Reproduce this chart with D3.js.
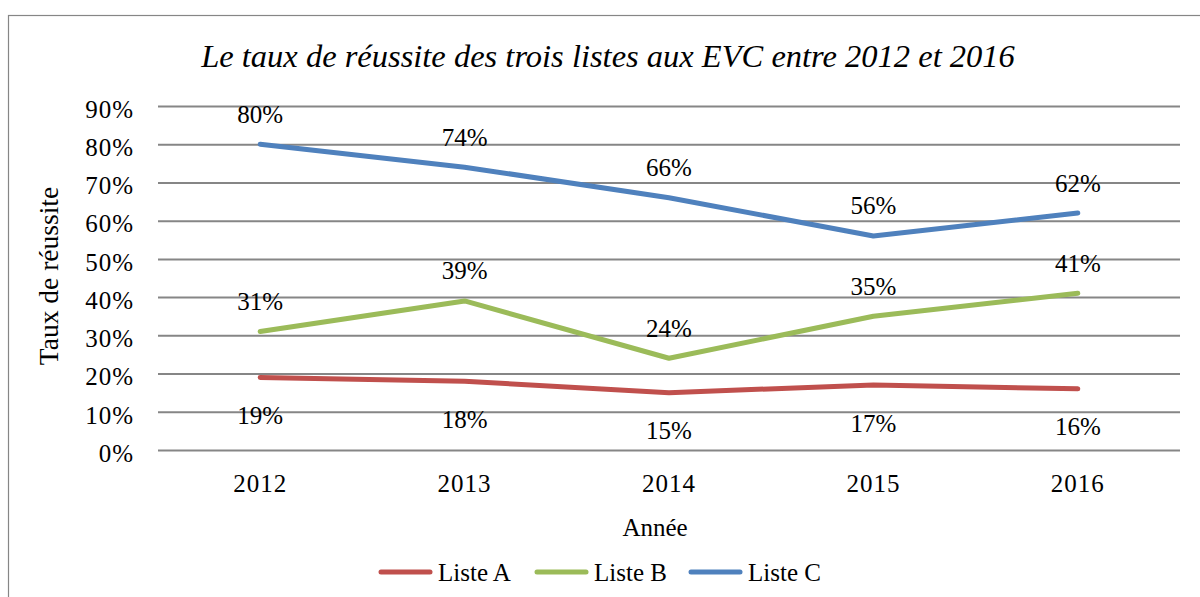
<!DOCTYPE html>
<html lang="fr">
    <head>
        <meta charset="utf-8">
        <title>Taux de réussite</title>
        <script src="https://cdn.jsdelivr.net/npm/d3@7"></script>
        <style>
            body { margin: 0; background: #fff; }
            text { font-family: "Liberation Serif", serif; fill: #000; }
        </style>
    </head>
    <body>
        <script>
            // data
            var years = ["2012", "2013", "2014", "2015", "2016"];
            var listeA = [19, 18, 15, 17, 16];
            var listeB = [31, 39, 24, 35, 41];
            var listeC = [80, 74, 66, 56, 62];
            var seriesNames = ["Liste A", "Liste B", "Liste C"];
            var yTicks = [0, 10, 20, 30, 40, 50, 60, 70, 80, 90];

            var series = [
                { name: seriesNames[0], values: listeA, color: "#c0504d", labelBelow: true },
                { name: seriesNames[1], values: listeB, color: "#9bbb59", labelBelow: false },
                { name: seriesNames[2], values: listeC, color: "#4f81bd", labelBelow: false }
            ];

            var w = 1200, h = 597;
            // note: "top" is taken by window.top, so prefixed names
            var plotLeft = 158, plotRight = 1180, plotTop = 106, plotBottom = 450;

            var svg = d3.select("body").append("svg")
                .attr("width", w)
                .attr("height", h);

            // outer frame (right and bottom edges run off the picture)
            svg.append("rect")
                .attr("x", 8.5).attr("y", 15.5)
                .attr("width", 1200).attr("height", 600)
                .attr("fill", "none")
                .attr("stroke", "#868686")
                .attr("stroke-width", 1.2);

            var x = d3.scaleBand().domain(years).range([plotLeft, plotRight]);
            var y = d3.scaleLinear().domain([0, 90]).range([plotBottom, plotTop]);
            var cx = function(d) { return x(d) + x.bandwidth() / 2; };

            // gridlines + y labels
            var yAxis = d3.axisLeft(y)
                .tickValues(yTicks)
                .tickSize(-(plotRight - plotLeft))
                .tickPadding(24)
                .tickFormat(function(d) { return d + "%"; });
            var gy = svg.append("g")
                .attr("transform", "translate(" + plotLeft + ",0)")
                .call(yAxis);
            gy.select(".domain").remove();
            gy.selectAll(".tick line")
                .attr("stroke", "#868686")
                .attr("stroke-width", 2);
            gy.selectAll(".tick text")
                .attr("font-family", "Liberation Serif")
                .attr("font-size", "25px")
                .attr("letter-spacing", "1px")
                .attr("dy", "0.45em")
                .attr("fill", "#000");

            // x labels
            var xAxis = d3.axisBottom(x).tickSize(0).tickPadding(24);
            var gx = svg.append("g")
                .attr("transform", "translate(0," + plotBottom + ")")
                .call(xAxis);
            gx.select(".domain").remove();
            gx.selectAll(".tick text")
                .attr("font-family", "Liberation Serif")
                .attr("font-size", "25px")
                .attr("letter-spacing", "1px")
                .attr("fill", "#000");

            // lines
            var line = d3.line()
                .x(function(d, i) { return cx(years[i]); })
                .y(function(d) { return y(d); });

            svg.selectAll("path.serie")
                .data(series)
                .enter()
                .append("path")
                .attr("class", "serie")
                .attr("d", function(s) { return line(s.values); })
                .attr("fill", "none")
                .attr("stroke", function(s) { return s.color; })
                .attr("stroke-width", 5)
                .attr("stroke-linecap", "round")
                .attr("stroke-linejoin", "round");

            // data labels
            series.forEach(function(s) {
                svg.selectAll(null)
                    .data(s.values)
                    .enter()
                    .append("text")
                    .text(function(d) { return d + "%"; })
                    .attr("x", function(d, i) { return cx(years[i]); })
                    .attr("y", function(d) { return y(d) + (s.labelBelow ? 38 : -30); })
                    .attr("dominant-baseline", "central")
                    .attr("text-anchor", "middle")
                    .attr("font-size", "25px");
            });

            // title
            svg.append("text")
                .text("Le taux de réussite des trois listes aux EVC entre 2012 et 2016")
                .attr("x", 608).attr("y", 56)
                .attr("dominant-baseline", "central")
                .attr("text-anchor", "middle")
                .attr("font-size", "32.5px")
                .attr("font-style", "italic");

            // axis titles
            svg.append("text")
                .text("Taux de réussite")
                .attr("transform", "translate(48,276) rotate(-90)")
                .attr("dominant-baseline", "central")
                .attr("text-anchor", "middle")
                .attr("font-size", "27.5px");

            svg.append("text")
                .text("Année")
                .attr("x", 655).attr("y", 527)
                .attr("dominant-baseline", "central")
                .attr("text-anchor", "middle")
                .attr("font-size", "25px");

            // legend
            var legendX = [379, 535, 689];
            var lg = svg.selectAll("g.legend")
                .data(series)
                .enter()
                .append("g")
                .attr("class", "legend")
                .attr("transform", function(s, i) { return "translate(" + legendX[i] + ",572)"; });
            lg.append("line")
                .attr("x1", 2).attr("x2", 51)
                .attr("stroke", function(s) { return s.color; })
                .attr("stroke-width", 5)
                .attr("stroke-linecap", "round");
            lg.append("text")
                .text(function(s) { return s.name; })
                .attr("x", 59)
                .attr("dominant-baseline", "central")
                .attr("font-size", "25px");
        </script>
    </body>
</html>
